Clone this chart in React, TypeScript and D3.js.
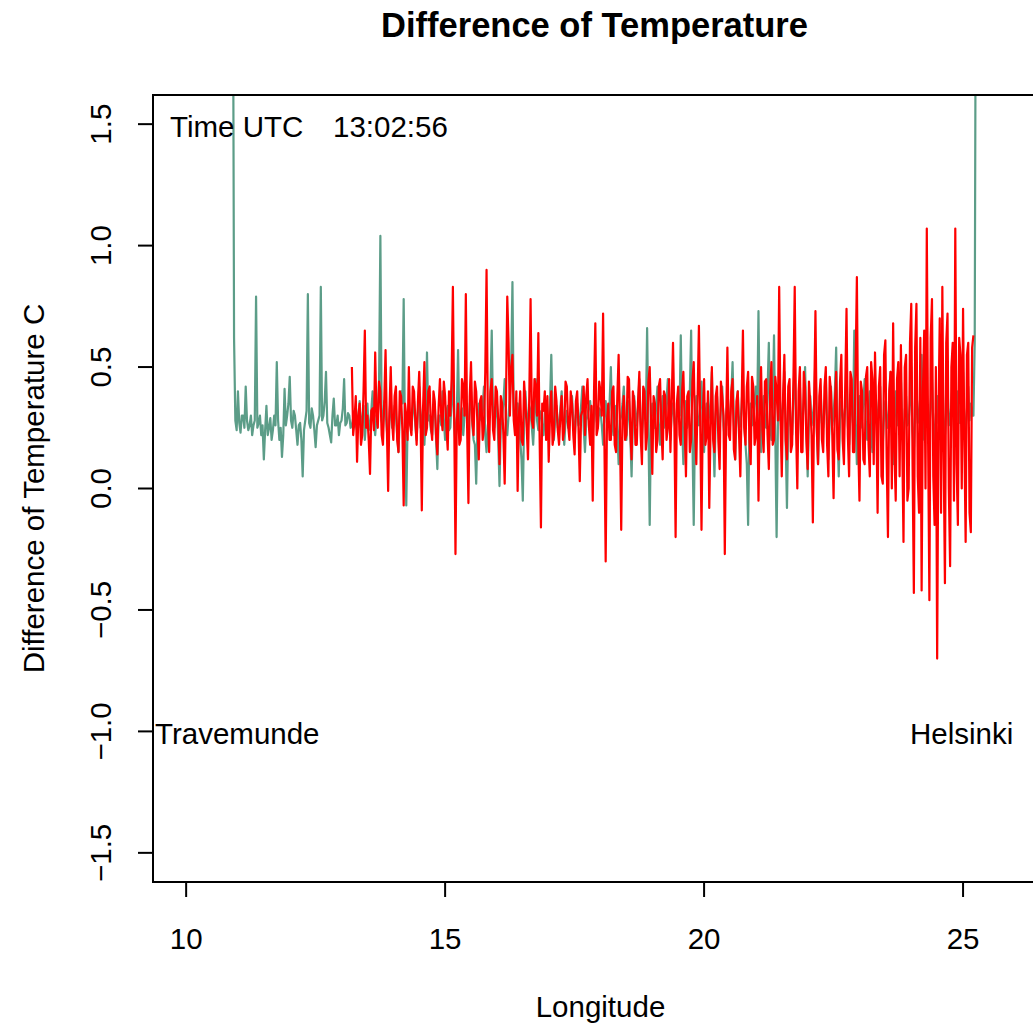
import React from "react";
import * as d3 from "d3";

// Longitude of first sample and sample spacing (degrees)
const greenStartLon = 10.9;
const redStartLon = 13.2;
const lonStep = 0.025;

// Difference of temperature, series 1 (teal)
const greenValues: number[] = [
  2.5, 0.62, 0.28, 0.24, 0.4, 0.27, 0.23, 0.3, 0.3, 0.25, 0.42, 0.28, 0.24, 0.26, 0.3, 0.22, 0.26, 0.28, 0.79, 0.25,
  0.27, 0.3, 0.22, 0.26, 0.12, 0.24, 0.34, 0.22, 0.25, 0.29, 0.2, 0.24, 0.3, 0.26, 0.52, 0.28, 0.2, 0.25, 0.13, 0.22,
  0.41, 0.26, 0.3, 0.35, 0.46, 0.28, 0.25, 0.32, 0.3, 0.24, 0.18, 0.26, 0.27, 0.2, 0.05, 0.24, 0.28, 0.32, 0.8, 0.27,
  0.25, 0.33, 0.3, 0.24, 0.17, 0.26, 0.28, 0.3, 0.83, 0.28, 0.3, 0.36, 0.48, 0.27, 0.25, 0.22, 0.19, 0.3, 0.37, 0.26,
  0.26, 0.3, 0.22, 0.27, 0.28, 0.33, 0.45, 0.26, 0.27, 0.31, 0.3, 0.25, 0.26, 0.29, 0.32, 0.26, 0.24, 0.3, 0.36, 0.25,
  0.28, 0.34, 0.2, 0.28, 0.35, 0.24, 0.26, 0.32, 0.4, 0.27, 0.22, 0.3, 0.3, 0.45, 1.04, 0.28, 0.25, 0.36, 0.32, 0.24,
  0.18, 0.3, 0.38, 0.25, 0.26, 0.34, 0.3, 0.22, 0.15, 0.3, 0.4, 0.35, 0.78, 0.2, -0.07, 0.26, 0.32, 0.28, 0.24, 0.33,
  0.36, 0.26, 0.2, 0.32, 0.42, 0.25, 0.28, 0.34, 0.18, 0.3, 0.56, 0.28, 0.3, 0.24, 0.22, 0.33, 0.35, 0.2, 0.08, 0.3,
  0.3, 0.26, 0.4, 0.28, 0.2, 0.32, 0.34, 0.24, 0.25, 0.36, 0.45, 0.27, 0.18, 0.3, 0.57, 0.26, 0.28, 0.33, 0.22, 0.3,
  0.38, 0.28, 0.25, 0.34, 0.4, 0.26, 0.2, 0.18, 0.02, 0.25, 0.35, 0.3, 0.28, 0.34, 0.42, 0.22, 0.15, 0.26, 0.3, 0.4,
  0.65, 0.3, 0.25, 0.32, 0.35, 0.2, 0.01, 0.26, 0.3, 0.35, 0.45, 0.28, 0.22, 0.3, 0.38, 0.5, 0.85, 0.3, 0.28, 0.34,
  0.35, 0.26, 0.2, 0.12, -0.05, 0.28, 0.4, 0.3, 0.26, 0.34, 0.32, 0.25, 0.18, 0.3, 0.45, 0.28, 0.24, 0.32, 0.3, 0.26,
  0.22, 0.3, 0.36, 0.27, 0.28, 0.35, 0.55, 0.3, 0.2, 0.28, 0.34, 0.25, 0.26, 0.33, 0.4, 0.27, 0.18, 0.28, 0.32, 0.25,
  0.26, 0.33, 0.38, 0.28, 0.2, 0.3, 0.35, 0.26, 0.28, 0.34, 0.42, 0.25, 0.15, 0.28, 0.3, 0.34, 0.36, 0.27, 0.22, 0.3,
  0.4, 0.28, 0.25, 0.33, 0.32, 0.26, 0.18, 0.3, 0.36, 0.27, 0.28, 0.35, 0.5, 0.28, 0.22, 0.3, 0.34, 0.24, 0.1, 0.28,
  0.3, 0.35, 0.42, 0.26, 0.2, 0.3, 0.36, 0.22, 0.05, 0.28, 0.38, 0.3, 0.26, 0.34, 0.45, 0.27, 0.22, 0.3, 0.34, 0.28,
  0.66, 0.25, -0.15, 0.28, 0.35, 0.3, 0.25, 0.34, 0.42, 0.26, 0.18, 0.3, 0.38, 0.25, 0.28, 0.36, 0.45, 0.28, 0.2, 0.32,
  0.35, 0.28, 0.24, 0.32, 0.4, 0.3, 0.63, 0.26, 0.1, 0.3, 0.36, 0.25, 0.28, 0.4, 0.65, 0.2, -0.15, 0.28, 0.38, 0.27,
  0.26, 0.34, 0.44, 0.26, 0.15, 0.3, 0.35, 0.27, 0.3, 0.36, 0.48, 0.25, 0.05, 0.3, 0.38, 0.28, 0.25, 0.33, 0.42, 0.26,
  0.2, 0.3, 0.36, 0.26, 0.3, 0.38, 0.52, 0.28, 0.12, 0.3, 0.4, 0.25, 0.26, 0.34, 0.45, 0.27, 0.18, 0.1, -0.15, 0.25,
  0.35, 0.26, 0.28, 0.36, 0.42, 0.3, 0.73, 0.28, 0.15, 0.3, 0.38, 0.26, 0.25, 0.4, 0.6, 0.28, 0.2, 0.35, 0.63, 0.22,
  -0.2, 0.25, 0.4, 0.28, 0.3, 0.36, 0.48, 0.2, -0.08, 0.28, 0.35, 0.26, 0.22, 0.38, 0.55, 0.27, 0.15, 0.3, 0.42, 0.26,
  0.28, 0.36, 0.5, 0.24, 0.05, 0.28, 0.38, 0.26, 0.3, 0.35, 0.55, 0.25, 0.1, 0.3, 0.4, 0.27, 0.25, 0.34, 0.46, 0.26,
  0.12, 0.28, 0.42, 0.26, 0.3, 0.4, 0.58, 0.24, 0.05, 0.28, 0.36, 0.3, 0.25, 0.34, 0.5, 0.26, 0.18, 0.3, 0.4, 0.27,
  0.65, 0.3, 0.1, 0.28, 0.38, 0.25, 0.28, 0.36, 0.45, 0.26, 0.2, 0.32, 0.4, 0.24, 0.15, 0.3, 0.35, 0.27, 0.3, 0.36,
  0.42, 0.26, 0.18, 0.3, 0.36, 0.28, 0.25, 0.38, 0.48, 0.24, 0.1, 0.3, 0.4, 0.26, 0.3, 0.36, 0.45, 0.25, 0.2, 0.32,
  0.38, 0.26, 0.28, 0.35, 0.5, 0.24, 0.15, 0.3, 0.42, 0.27, 0.3, 0.38, 0.55, 0.25, 0.2, 0.32, 0.4, 0.28, 0.25, 0.34,
  0.45, 0.26, 0.18, 0.3, 0.38, 0.27, 0.3, 0.36, 0.5, 0.25, 0.22, 0.32, 0.42, 0.26, 0.28, 0.35, 0.46, 0.24, 0.2, 0.3,
  0.4, 0.27, 0.3, 0.36, 0.48, 0.26, 0.25, 0.32, 0.42, 0.28, 0.35, 0.3, 0.3, 0.6, 2.5,
];

// Difference of temperature, series 2 (red)
const redValues: number[] = [
  0.5, 0.22, 0.28, 0.38, 0.11, 0.3, 0.35, 0.18, 0.22, 0.4, 0.65, 0.25, 0.3, 0.2, 0.06, 0.32, 0.33, 0.24, 0.56, 0.3,
  0.25, 0.44, 0.4, 0.22, 0.18, 0.36, 0.57, 0.25, -0.01, 0.32, 0.5, 0.28, 0.2, 0.38, 0.42, 0.2, 0.15, 0.4, 0.38, 0.24,
  -0.07, 0.35, 0.3, 0.2, 0.5, 0.26, 0.22, 0.42, 0.4, 0.28, 0.18, 0.36, 0.48, 0.3, -0.09, 0.34, 0.52, 0.22, 0.25, 0.4,
  0.42, 0.26, 0.2, 0.4, 0.36, 0.22, 0.14, 0.34, 0.45, 0.3, 0.24, 0.44, 0.38, 0.25, 0.16, 0.4, 0.3, 0.45, 0.83, 0.3,
  -0.27, 0.28, 0.35, 0.18, 0.2, 0.45, 0.42, 0.3, 0.8, 0.25, -0.06, 0.38, 0.52, 0.28, 0.22, 0.44, 0.4, 0.26, 0.12, 0.36,
  0.38, 0.2, 0.25, 0.48, 0.9, 0.3, 0.15, 0.4, 0.45, 0.24, 0.2, 0.42, 0.4, 0.28, 0.1, 0.38, 0.35, 0.22, 0.02, 0.36,
  0.79, 0.6, 0.3, 0.5, 0.55, 0.28, 0.22, 0.4, -0.01, 0.3, 0.4, 0.2, 0.18, 0.44, 0.35, 0.25, 0.12, 0.38, 0.78, 0.28,
  0.25, 0.45, 0.42, 0.3, 0.64, 0.2, -0.16, 0.35, 0.32, 0.4, 0.2, 0.38, 0.11, 0.3, 0.4, 0.18, 0.22, 0.42, 0.36, 0.24,
  0.18, 0.3, 0.38, 0.2, 0.24, 0.44, 0.42, 0.26, 0.2, 0.4, 0.35, 0.22, 0.14, 0.36, 0.4, 0.25, 0.03, 0.3, 0.32, 0.42,
  0.22, 0.38, 0.45, 0.26, 0.18, 0.34, -0.05, 0.4, 0.68, 0.22, 0.25, 0.44, 0.4, 0.3, 0.72, 0.2, -0.3, 0.28, 0.35, 0.2,
  0.2, 0.4, 0.42, 0.18, 0.15, 0.38, 0.55, 0.25, -0.17, 0.3, 0.38, 0.2, 0.22, 0.46, 0.45, 0.24, 0.12, 0.4, 0.36, 0.18,
  0.18, 0.36, 0.48, 0.22, 0.1, 0.42, 0.4, 0.16, 0.22, 0.44, 0.5, 0.28, 0.06, 0.38, 0.35, 0.15, 0.2, 0.42, 0.45, 0.25,
  0.12, 0.4, 0.38, 0.2, 0.25, 0.45, 0.15, 0.36, 0.6, 0.3, -0.2, 0.35, 0.42, 0.22, 0.18, 0.4, 0.48, 0.26, 0.05, 0.38,
  0.4, 0.15, 0.2, 0.44, 0.52, 0.24, 0.1, 0.38, 0.67, 0.28, -0.17, 0.3, 0.45, 0.18, 0.22, 0.4, -0.08, 0.25, 0.5, 0.2,
  0.15, 0.38, 0.42, 0.2, 0.08, 0.44, 0.38, 0.3, -0.27, 0.26, 0.58, 0.22, 0.2, 0.4, 0.45, 0.16, 0.12, 0.36, 0.4, 0.22,
  0.05, 0.35, 0.65, 0.25, 0.18, 0.42, 0.48, 0.2, 0.1, 0.46, 0.42, 0.18, 0.22, 0.38, -0.05, 0.3, 0.5, 0.24, 0.15, 0.44,
  0.45, 0.22, 0.08, 0.4, 0.52, 0.18, 0.2, 0.46, 0.4, 0.28, 0.83, 0.3, 0.05, 0.38, 0.55, 0.2, 0.12, 0.42, 0.45, 0.15,
  0.18, 0.45, 0.83, 0.25, 0.0, 0.4, 0.5, 0.15, 0.15, 0.48, 0.42, 0.2, 0.08, 0.44, 0.35, 0.22, -0.14, 0.36, 0.73, 0.25,
  0.1, 0.38, 0.45, 0.2, 0.15, 0.42, 0.5, 0.18, 0.05, 0.46, 0.4, 0.22, -0.04, 0.35, 0.48, 0.16, 0.12, 0.44, 0.55, 0.2,
  0.1, 0.42, 0.74, 0.22, 0.05, 0.48, 0.45, 0.15, 0.15, 0.5, 0.87, 0.2, -0.05, 0.44, 0.4, 0.12, 0.1, 0.46, 0.5, 0.18,
  0.05, 0.52, 0.45, 0.1, 0.56, 0.3, -0.1, 0.42, 0.5, 0.05, 0.02, 0.55, 0.61, 0.12, -0.2, 0.4, 0.48, 0.0, 0.68, 0.15,
  -0.05, 0.45, 0.52, 0.05, 0.59, 0.2, -0.22, 0.5, 0.55, -0.05, 0.0, 0.6, 0.76, 0.1, -0.43, 0.58, 0.76, 0.05, -0.1, 0.62,
  -0.42, 0.4, 0.65, 0.0, 1.07, 0.2, -0.46, 0.62, 0.78, 0.05, -0.15, 0.5, -0.7, 0.3, 0.7, -0.1, 0.83, 0.15, -0.39, 0.6,
  0.72, 0.0, -0.32, 0.5, 0.6, -0.05, 1.07, 0.1, -0.15, 0.62, 0.55, 0.0, 0.74, 0.2, -0.22, 0.55, 0.6, -0.1, -0.18, 0.58,
  0.63,
];

const xTicks = [10, 15, 20, 25];
const yTicks = [-1.5, -1.0, -0.5, 0.0, 0.5, 1.0, 1.5];
const xDomain: [number, number] = [9.36, 26.64];
const yDomain: [number, number] = [-1.62, 1.62];

const titleText = "Difference of Temperature";
const xLabel = "Longitude";
const yLabel = "Difference of Temperature C";
const timeLabel = "Time UTC";
const timeValue = "13:02:56";
const startPort = "Travemunde";
const endPort = "Helsinki";

export default function App() {
  const W = 1033;
  const H = 1023;
  const left = 153, top = 95, right = 1048, bottom = 882;
  const x = d3.scaleLinear().domain(xDomain).range([left, right]);
  const y = d3.scaleLinear().domain(yDomain).range([bottom, top]);

  const green = greenValues.map((v, i) => [greenStartLon + i * lonStep, v] as [number, number]);
  const red = redValues.map((v, i) => [redStartLon + i * lonStep, v] as [number, number]);
  const line = d3.line<[number, number]>().x((d) => x(d[0])).y((d) => y(d[1]));

  const font = "'Liberation Sans', Arial, Helvetica, sans-serif";
  const fs = 29.5;
  const fmt = (v: number) => (v < 0 ? "\u2212" : "") + Math.abs(v).toFixed(1);

  return (
    <svg width={W} height={H} style={{ position: "absolute", left: 0, top: 0, background: "#fff" }} fontFamily={font}>
      <defs>
        <clipPath id="plotclip">
          <rect x={left} y={top} width={right - left} height={bottom - top} />
        </clipPath>
      </defs>
      <g clipPath="url(#plotclip)">
        <path d={line(green) || ""} fill="none" stroke="#5c9d88" strokeWidth={2.2} strokeLinejoin="round" />
        <path d={line(red) || ""} fill="none" stroke="#ff0000" strokeWidth={2.2} strokeLinejoin="round" />
      </g>
      <rect x={left} y={top} width={right - left} height={bottom - top} fill="none" stroke="#000" strokeWidth={2} />
      {xTicks.map((t) => (
        <g key={"x" + t}>
          <line x1={x(t)} x2={x(t)} y1={bottom} y2={bottom + 15} stroke="#000" strokeWidth={2} />
          <text x={x(t)} y={938} textAnchor="middle" dominantBaseline="central" fontSize={fs}>{t}</text>
        </g>
      ))}
      {yTicks.map((t) => (
        <g key={"y" + t}>
          <line x1={left} x2={left - 15} y1={y(t)} y2={y(t)} stroke="#000" strokeWidth={2} />
          <text
            transform={`translate(100,${y(t)}) rotate(-90)`}
            textAnchor="middle"
            dominantBaseline="central"
            fontSize={fs}
          >
            {fmt(t)}
          </text>
        </g>
      ))}
      <text x={(left + right) / 2 - 6} y={25} textAnchor="middle" dominantBaseline="central" fontSize={34.5} fontWeight="bold">
        {titleText}
      </text>
      <text x={(left + right) / 2} y={1006} textAnchor="middle" dominantBaseline="central" fontSize={fs}>
        {xLabel}
      </text>
      <text transform={`translate(33,${(top + bottom) / 2}) rotate(-90)`} textAnchor="middle" dominantBaseline="central" fontSize={fs}>
        {yLabel}
      </text>
      <text x={170} y={126} dominantBaseline="central" fontSize={fs}>{timeLabel}</text>
      <text x={333} y={126} dominantBaseline="central" fontSize={fs}>{timeValue}</text>
      <text x={155} y={733} dominantBaseline="central" fontSize={fs}>{startPort}</text>
      <text x={910} y={733} dominantBaseline="central" fontSize={fs}>{endPort}</text>
    </svg>
  );
}
